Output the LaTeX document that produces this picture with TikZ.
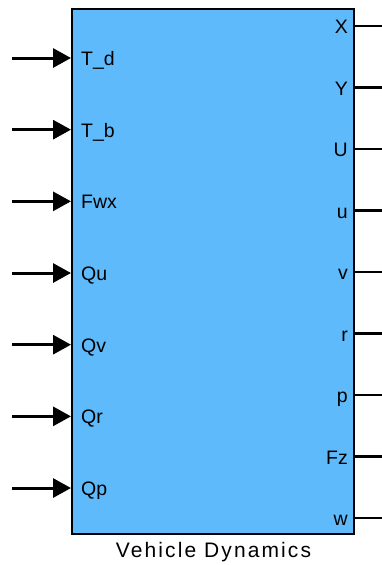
\documentclass[tikz,border=0pt]{standalone}
\usepackage{fontspec}
\setmainfont{Liberation Sans}
\usetikzlibrary{arrows.meta}
\definecolor{blockblue}{RGB}{94,186,250}
\begin{document}
\begin{tikzpicture}[x=1pt,y=-1pt,
  blockbox/.style={draw=black,line width=2.5pt,fill=blockblue,minimum width=282pt,minimum height=525pt,inner sep=0pt,outer sep=0pt},
  inarrow/.style={line width=3pt,-{Triangle[length=18pt,width=19pt]}},
  outline/.style={line width=2.2pt},
  inlab/.style={anchor=base west,inner sep=0pt,font=\fontsize{19.5}{20}\selectfont},
  outlab/.style={anchor=base east,inner sep=0pt,font=\fontsize{19.5}{20}\selectfont},
  titlelab/.style={anchor=base,inner sep=0pt,font=\fontsize{21}{22}\selectfont\addfontfeature{LetterSpace=10}}]
\useasboundingbox (0,0) rectangle (382,565);
\node[blockbox] (blk) at (213,271.5) {};
\node[titlelab] (title) at (213.5,557) {Vehicle Dynamics};
% inputs
\foreach \name [count=\i from 0] in {T\_d,T\_b,Fwx,Qu,Qv,Qr,Qp}{
  \pgfmathsetmacro{\yy}{58+71.67*\i}
  \coordinate (src\i) at (12,\yy);
  \coordinate (in\i) at (71,\yy);
  \draw[inarrow] (src\i) -- (in\i);
  \node[inlab] (inl\i) at (81,\yy+7.5) {\name};
}
% outputs
\foreach \name [count=\i from 0] in {X,Y,U,u,v,r,p,Fz,w}{
  \pgfmathsetmacro{\yy}{26+61.5*\i}
  \coordinate (out\i) at (354,\yy);
  \coordinate (dst\i) at (382,\yy);
  \draw[outline] (out\i) -- (dst\i);
  \node[outlab] (outl\i) at (348,\yy+7.5) {\name};
}
\end{tikzpicture}
\end{document}
